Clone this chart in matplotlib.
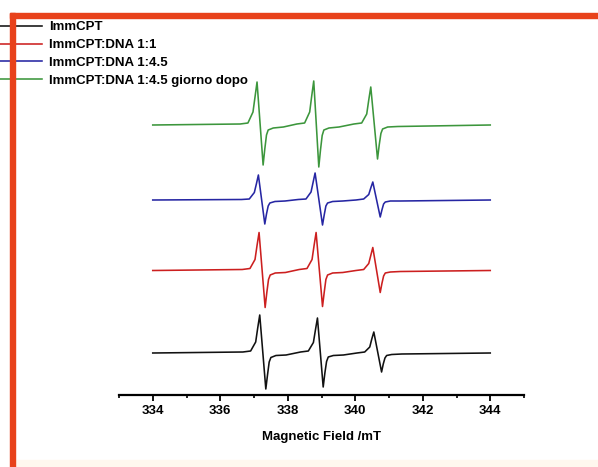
import matplotlib.pyplot as plt
from matplotlib.patches import Rectangle
from matplotlib.ticker import MultipleLocator

plt.rcParams['font.family'] = ['Liberation Sans', 'DejaVu Sans']
plt.rcParams['font.weight'] = 'bold'

labels = ['ImmCPT', 'ImmCPT:DNA 1:1', 'ImmCPT:DNA 1:4.5', 'ImmCPT:DNA 1:4.5 giorno dopo']
colors = ['#111111', '#cc1f1f', '#2626a3', '#3c963c']
offsets = [42, 124.5, 195, 270]

# field (mT) / intensity (a.u.)
field_black = [334.0,
               336.67, 336.90, 337.05, 337.11, 337.17, 337.35, 337.40, 337.45, 337.50, 337.65, 337.95,
               338.38, 338.61, 338.76, 338.82, 338.88, 339.05, 339.10, 339.15, 339.20, 339.35, 339.65,
               340.05, 340.28, 340.43, 340.49, 340.55, 340.78, 340.83, 340.88, 340.93, 341.08, 341.38,
               344.0]
int_black = [0,
             1, 2, 11, 25, 38, -36, -22, -9, -4.5, -2.5, -2,
             1, 2, 10.5, 23, 35, -34, -20, -8.5, -4, -2.5, -2,
             0, 1, 6, 14, 21, -19, -11, -5, -2.5, -1.5, -1,
             0]

field_red = [334.0,
             336.65, 336.88, 337.03, 337.09, 337.15, 337.33, 337.38, 337.43, 337.48, 337.63, 337.93,
             338.34, 338.57, 338.72, 338.78, 338.84, 339.03, 339.08, 339.13, 339.18, 339.33, 339.63,
             340.02, 340.25, 340.40, 340.46, 340.52, 340.74, 340.79, 340.84, 340.89, 341.04, 341.34,
             344.0]
int_red = [0,
           1, 2, 11, 25, 38, -37, -22, -9, -4.5, -2.5, -2,
           1, 2, 11, 25, 38, -36, -22, -9, -4.5, -2.5, -2,
           0, 1, 7, 15, 23, -22, -13, -5.5, -2.5, -1.5, -1,
           0]

field_blue = [334.0,
              336.63, 336.86, 337.01, 337.07, 337.13, 337.32, 337.37, 337.42, 337.47, 337.62, 337.92,
              338.31, 338.54, 338.69, 338.75, 338.81, 339.03, 339.08, 339.13, 339.18, 339.33, 339.63,
              340.02, 340.25, 340.40, 340.46, 340.52, 340.74, 340.79, 340.84, 340.89, 341.04, 341.34,
              344.0]
int_blue = [0,
            0.5, 1, 7.5, 16, 25, -24, -14, -6, -3, -1.5, -1,
            0.5, 1, 8, 17.5, 27, -25, -15, -6, -3, -1.5, -1,
            0, 1, 5.5, 12, 18, -17, -10, -4, -2, -1, -1,
            0]

field_green = [334.0,
               336.59, 336.82, 336.97, 337.03, 337.09, 337.27, 337.32, 337.37, 337.42, 337.57, 337.87,
               338.27, 338.50, 338.65, 338.71, 338.77, 338.92, 338.97, 339.02, 339.07, 339.22, 339.52,
               339.96, 340.19, 340.34, 340.40, 340.46, 340.66, 340.71, 340.76, 340.81, 340.96, 341.26,
               344.0]
int_green = [0,
             1, 2, 13, 28, 43, -40, -24, -10, -5, -3, -2,
             1, 2, 13, 29, 44, -42, -25, -10.5, -5, -3, -2,
             1, 2, 11, 25, 38, -34, -20, -8.5, -4, -2, -1.5,
             0]

fields = [field_black, field_red, field_blue, field_green]
ints = [int_black, int_red, int_blue, int_green]

fig = plt.figure(figsize=(5.98, 4.67), dpi=100)
ax = fig.add_axes([119/598, 72/467, 405/598, 340/467])

for f, y, off, c, lab in zip(fields, ints, offsets, colors, labels):
    ax.plot(f, [v + off for v in y], color=c, lw=1.15, label=lab)

ax.set_xlim(333, 345)
ax.set_ylim(0, 340)
ax.xaxis.set_major_locator(MultipleLocator(2))
ax.xaxis.set_minor_locator(MultipleLocator(1))
for s in ['top', 'right', 'left']:
    ax.spines[s].set_visible(False)
ax.spines['bottom'].set_linewidth(1.6)
ax.set_yticks([])
ax.tick_params(axis='x', which='major', direction='out', length=4, width=1.3, pad=3.5, labelsize=9.5)
ax.tick_params(axis='x', which='minor', direction='out', length=2.5, width=1.2)
for t in ax.get_xticklabels():
    t.set_fontweight('bold')
ax.set_xlabel('Magnetic Field /mT', fontsize=9.5, fontweight='bold', labelpad=9.5)
ax.patch.set_alpha(0)

fig.legend(loc='upper left', bbox_to_anchor=(0, 1 - 21/467), frameon=False,
           borderpad=0, borderaxespad=0, handlelength=3.2, handletextpad=0.55,
           labelspacing=0.43, prop={'size': 9.5, 'weight': 'bold'})

# page decoration: orange frame on top and left, pale strip at bottom
fig.patches.append(Rectangle((15, 0), 583, 7, transform=None, color='#fff7ee', zorder=-1))
fig.patches.append(Rectangle((10, 449.5), 588, 5, transform=None, color='#e8421b', zorder=10))
fig.patches.append(Rectangle((10, 0), 5, 454.5, transform=None, color='#e8421b', zorder=10))

fig.savefig('out.png', dpi=100)
